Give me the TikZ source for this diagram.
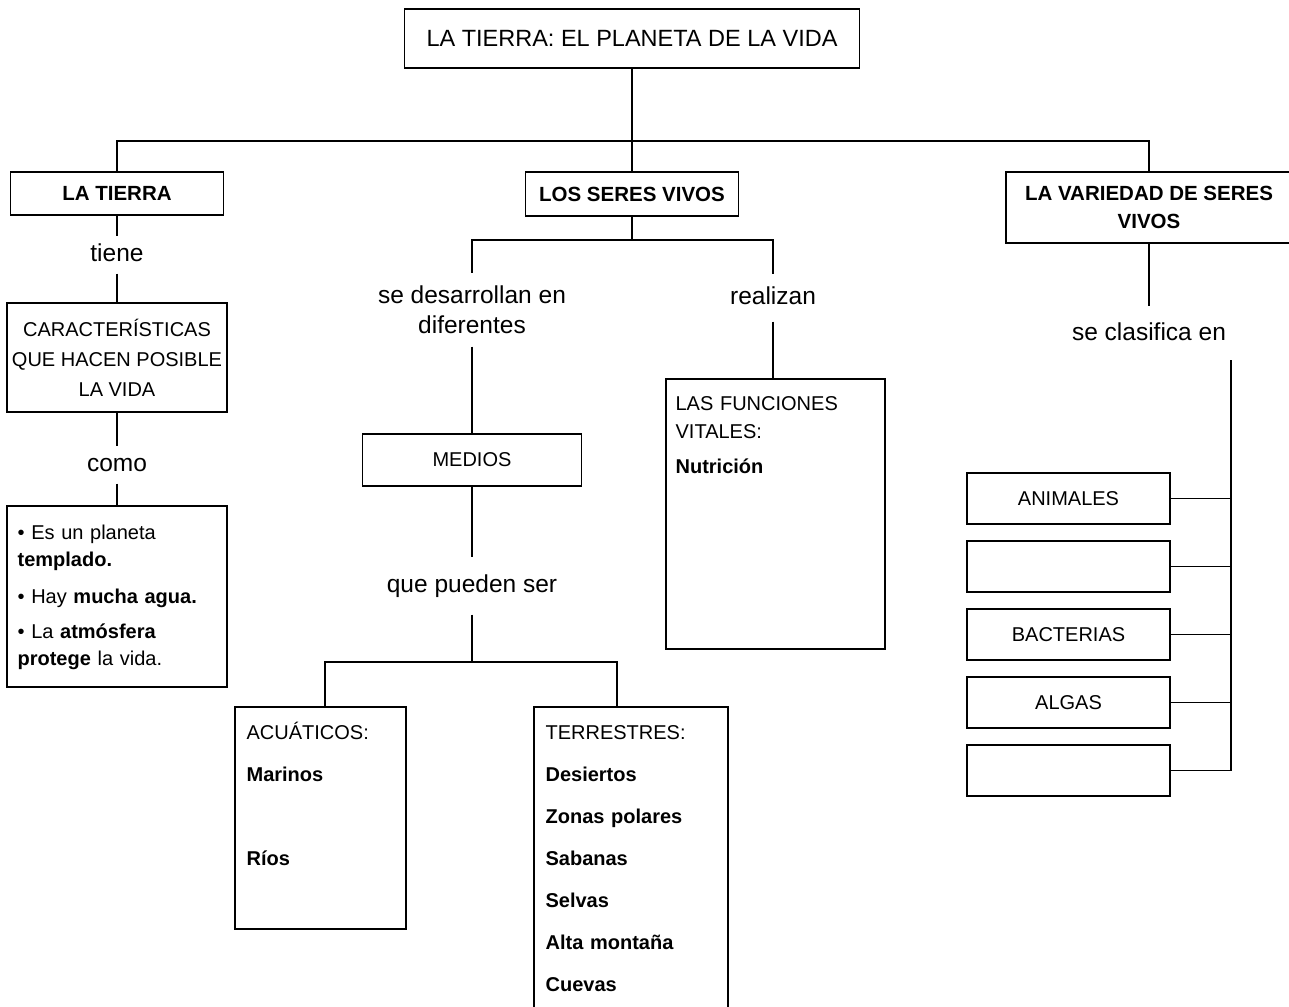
\documentclass[tikz,border=0pt]{standalone}
\usepackage{fontspec}
\setmainfont{Liberation Sans}
\usepackage{tikz}
\usetikzlibrary{positioning}

\begin{document}
\begin{tikzpicture}[x=1pt,y=-1pt,line width=1.2pt,node distance=68pt]
  \tikzstyle{caja}=[draw,rectangle,inner sep=0pt,align=center,font=\fontsize{20}{30}\selectfont]
  \tikzstyle{tema}=[caja,font=\fontsize{20.5}{28}\selectfont\bfseries]
  \tikzstyle{clase}=[caja,minimum width=203pt,minimum height=51pt]
  \tikzstyle{enlace}=[inner xsep=2pt,inner ysep=6.5pt,text height=18pt,text depth=5pt,font=\fontsize{24.5}{30}\selectfont]
  \tikzstyle{enlacedos}=[inner xsep=2pt,inner ysep=12pt,align=center,font=\fontsize{24.5}{30}\selectfont]
  \tikzstyle{lista}=[anchor=base west,inner sep=0pt,align=left,text width=190pt,font=\fontsize{20}{42}\selectfont]

  \useasboundingbox (0,0) rectangle (1289,1006);
  \clip (0,0) rectangle (1289,1006);

  \node[caja,minimum width=455pt,minimum height=59pt,font=\fontsize{23.5}{28}\selectfont]
                          (planeta)    at (632,38.5)   {LA TIERRA: EL PLANETA DE LA VIDA};
  \node[tema,minimum width=213pt,minimum height=43pt]  (tierra)     at (117,193.5)  {LA TIERRA};
  \node[tema,minimum width=213pt,minimum height=44pt]  (lsv)        at (632,194)    {LOS SERES VIVOS};
  \node[tema,minimum width=286pt,minimum height=71pt]  (variedad)   at (1149,207.5) {LA VARIEDAD DE SERES\\VIVOS};

  \node[enlace]                                        (tiene)      at (117,255)    {tiene};
  \node[caja,minimum width=220pt,minimum height=109pt] (carac)      at (117,357.5)  {CARACTERÍSTICAS\\QUE HACEN POSIBLE\\LA VIDA};
  \node[enlace]                                        (como)       at (117,465)    {como};
  \node[caja,minimum width=220pt,minimum height=181pt] (rasgos)     at (117,596.5)  {};

  \node[enlacedos]                                     (desarrollan) at (472,310)   {se desarrollan en\\diferentes};
  \node[caja,minimum width=219pt,minimum height=52pt]  (medios)     at (472,460)    {MEDIOS};
  \node[enlace,inner ysep=16.5pt]                      (pueden)     at (472,586)    {que pueden ser};
  \node[caja,minimum width=171pt,minimum height=222pt] (acuaticos)  at (320.5,818)  {};
  \node[caja,minimum width=194pt,minimum height=323pt] (terrestres) at (631,868.5)  {};

  \node[enlace,inner ysep=11.5pt]                      (realizan)   at (773,298)    {realizan};
  \node[caja,minimum width=219pt,minimum height=270pt] (funciones)  at (775.5,514)  {};

  \node[enlace,inner ysep=15pt]                        (clasifica)  at (1149,333.5) {se clasifica en};
  \node[clase]            (animales)   at (1068.5,498.5) {ANIMALES};
  \node[clase]            (blancouno)  [below of=animales]  {};
  \node[clase]            (bacterias)  [below of=blancouno] {BACTERIAS};
  \node[clase]            (algas)      [below of=bacterias] {ALGAS};
  \node[clase]            (blancodos)  [below of=algas]     {};

  \node[lista,font=\fontsize{20}{27}\selectfont] (rasgostexto) at (17,539)
    {• Es un planeta\\\textbf{templado.}\\[10pt]• Hay \textbf{mucha agua.}\\[8pt]• La \textbf{atmósfera}\\\textbf{protege} la vida.};
  \node[lista,font=\fontsize{20}{28}\selectfont] (funtexto) at (675,410)
    {LAS FUNCIONES\\VITALES:\\[7pt]\textbf{Nutrición}};
  \node[lista] (acutexto) at (246,739) {ACUÁTICOS:\\\textbf{Marinos}\\[42pt]\textbf{Ríos}};
  \node[lista] (tertexto) at (545,739)
    {TERRESTRES:\\\textbf{Desiertos}\\\textbf{Zonas polares}\\\textbf{Sabanas}\\\textbf{Selvas}\\\textbf{Alta montaña}\\\textbf{Cuevas}};

  \coordinate (raiz)  at (632,141);
  \coordinate (nudo)  at (632,240);
  \coordinate (nudodos) at (472,662);
  \coordinate (rama)  at (1231,360);

  \draw (planeta) -- (lsv);
  \draw (raiz) -| (tierra);
  \draw (raiz) -| (variedad);
  \draw (tierra) -- (tiene);
  \draw (tiene) -- (carac);
  \draw (carac) -- (como);
  \draw (como) -- (rasgos);
  \draw (lsv) -- (nudo) -| (desarrollan);
  \draw (nudo) -| (realizan);
  \draw (desarrollan) -- (medios);
  \draw (realizan) -- (realizan |- funciones.north);
  \draw (medios) -- (pueden);
  \draw (pueden) -- (nudodos) -| ([xshift=4.5pt]acuaticos.north);
  \draw (nudodos) -| ([xshift=-14pt]terrestres.north);
  \draw (variedad) -- (clasifica);
  \draw (rama) |- (blancodos.east);
  \foreach \n in {animales,blancouno,bacterias,algas}
    \draw (\n.east) -- (\n.east -| rama);
\end{tikzpicture}
\end{document}
